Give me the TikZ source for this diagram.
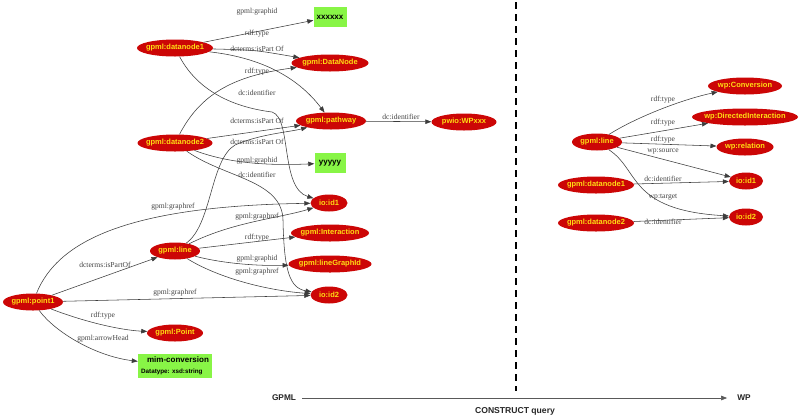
\documentclass[tikz,border=0pt]{standalone}
\usepackage{fontspec}
\setmainfont{Liberation Serif}
\newfontfamily\nodefont{Liberation Sans}
\usetikzlibrary{arrows.meta,shapes.geometric}
\definecolor{nodered}{RGB}{204,6,6}
\definecolor{nodeyellow}{RGB}{255,222,20}
\definecolor{boxgreen}{RGB}{136,245,70}
\definecolor{edgegray}{RGB}{60,60,60}
\definecolor{lblgray}{RGB}{70,70,70}
\tikzset{
  rn/.style={ellipse, fill=nodered, inner xsep=-4pt, inner ysep=0pt, minimum height=17pt,
    text=nodeyellow, font=\nodefont\bfseries\fontsize{7.5}{8}\selectfont},
  gb/.style={rectangle, fill=boxgreen, inner sep=0pt, text=black,
    font=\nodefont\bfseries\fontsize{8}{9}\selectfont},
  lbl/.style={inner sep=0pt, text=lblgray, font=\fontsize{7.6}{8}\selectfont},
  edge/.style={draw=edgegray, line width=0.55pt, -{Triangle[length=6pt,width=4.5pt]}},
}
\begin{document}
\begin{tikzpicture}[x=1pt,y=-1pt]
\useasboundingbox (0,0) rectangle (800,416);
\fill[white] (0,0) rectangle (800,416);

% ---------------- left graph nodes
\node[rn, minimum width=76pt] (dnA) at (175,48) {gpml:datanode1};
\node[gb, minimum width=33pt, minimum height=20pt] (xx) at (330,17) {xxxxxx};
\node[rn, minimum width=77pt] (dNode) at (330,63) {gpml:DataNode};
\node[rn, minimum width=70pt] (pw) at (331,121) {gpml:pathway};
\node[rn, minimum width=65pt] (pwio) at (464,122) {pwio:WPxxx};
\node[rn, minimum width=75pt] (dnB) at (175,143) {gpml:datanode2};
\node[gb, minimum width=31pt, minimum height=20pt] (yy) at (330,163) {yyyyy};
\node[rn, minimum width=37pt] (idA) at (329,203) {io:id1};
\node[rn, minimum width=78pt] (inter) at (330,233) {gpml:Interaction};
\node[rn, minimum width=83pt] (lgid) at (330,264) {gpml:lineGraphId};
\node[rn, minimum width=37pt] (idB) at (329,295) {io:id2};
\node[rn, minimum width=50pt] (ln) at (175,251) {gpml:line};
\node[rn, minimum width=60pt] (pt1) at (33,302) {gpml:point1};
\node[rn, minimum width=56pt] (pnt) at (175,333) {gpml:Point};
\node[gb, minimum width=74pt, minimum height=24pt, align=left] (mim) at (175,366)
  {\hspace*{6pt}mim-conversion\\[1.5pt]{\fontsize{6.3}{7}\selectfont Datatype: xsd:string}};

% ---------------- left graph edges
\draw[edge] (dnA) -- (xx);
\draw[edge] (dnA) .. controls (255,50) .. (dNode);
\draw[edge] (dnA) .. controls (265,58) and (300,80) .. (pw);
\draw[edge] (dnA) .. controls (200,95) and (240,108) .. (272,112) .. controls (292,118) and (280,188) .. (idA);
\draw[edge] (dnB) .. controls (200,95) and (232,76) .. (dNode);
\draw[edge] (dnB) -- (pw);
\draw[edge] (ln) .. controls (212,225) and (210,160) .. (235,145) .. controls (260,134) and (290,132) .. (pw);
\draw[edge] (dnB) .. controls (225,162) and (262,166) .. (yy);
\draw[edge] (dnB) .. controls (225,178) and (282,180) .. (283,220) .. controls (284,272) and (290,288) .. (idB);
\draw[edge] (pt1) .. controls (58,240) and (130,206) .. (idA);
\draw[edge] (pt1) -- (ln);
\draw[edge] (pt1) -- (idB);
\draw[edge] (pt1) .. controls (85,322) and (120,330) .. (pnt);
\draw[edge] (pt1) .. controls (55,332) and (95,356) .. (mim);
\draw[edge] (ln) .. controls (232,222) and (280,218) .. (idA);
\draw[edge] (ln) -- (inter);
\draw[edge] (ln) .. controls (225,264) and (260,266) .. (lgid);
\draw[edge] (ln) .. controls (215,276) and (262,290) .. (idB);
\draw[edge] (pw) -- (pwio);

% ---------------- left graph labels
\node[lbl] (l1) at (257,12) {gpml:graphid};
\node[lbl] (l2) at (257,34) {rdf:type};
\node[lbl] (l3) at (257,49) {dcterms:isPart Of};
\node[lbl] (l4) at (257,72) {rdf:type};
\node[lbl] (l5) at (257,93) {dc:identifier};
\node[lbl] (l6) at (257,121) {dcterms:isPart Of};
\node[lbl] (l7) at (257,142) {dcterms:isPart Of};
\node[lbl] (l8) at (257,161) {gpml:graphid};
\node[lbl] (l9) at (257,175) {dc:identifier};
\node[lbl] (l10) at (173,207) {gpml:graphref};
\node[lbl] (l11) at (257,217) {gpml:graphref};
\node[lbl] (l12) at (257,238) {rdf:type};
\node[lbl] (l13) at (257,259) {gpml:graphid};
\node[lbl] (l14) at (257,272) {gpml:graphref};
\node[lbl] (l15) at (105,265) {dcterms:isPartOf};
\node[lbl] (l16) at (175,293) {gpml:graphref};
\node[lbl] (l17) at (103,316) {rdf:type};
\node[lbl] (l18) at (103,339) {gpml:arrowHead};
\node[lbl] (l19) at (401,117) {dc:identifier};

% ---------------- right graph nodes
\node[rn, minimum width=50pt] (lnR) at (597,142) {gpml:line};
\node[rn, minimum width=74pt] (conv) at (745,86) {wp:Conversion};
\node[rn, minimum width=106pt] (dint) at (745,117) {wp:DirectedInteraction};
\node[rn, minimum width=57pt] (rel) at (745,147) {wp:relation};
\node[rn, minimum width=34pt] (idR1) at (746,181) {io:id1};
\node[rn, minimum width=34pt] (idR2) at (746,217) {io:id2};
\node[rn, minimum width=76pt] (dnR1) at (596,185) {gpml:datanode1};
\node[rn, minimum width=76pt] (dnR2) at (596,223) {gpml:datanode2};

% ---------------- right graph edges
\draw[edge] (lnR) .. controls (635,118) and (680,100) .. (conv);
\draw[edge] (lnR) -- (dint);
\draw[edge] (lnR) -- (rel);
\draw[edge] (lnR) -- (idR1);
\draw[edge] (dnR1) -- (idR1);
\draw[edge] (lnR) .. controls (640,170) and (628,210) .. (idR2);
\draw[edge] (dnR2) -- (idR2);

% ---------------- right graph labels
\node[lbl] (r1) at (663,100) {rdf:type};
\node[lbl] (r2) at (663,123) {rdf:type};
\node[lbl] (r3) at (663,140) {rdf:type};
\node[lbl] (r4) at (663,152) {wp:source};
\node[lbl] (r5) at (663,179) {dc:identifier};
\node[lbl] (r6) at (663,197) {wp:target};
\node[lbl] (r7) at (663,222) {dc:identifier};

% ---------------- separator and bottom arrow
\coordinate (sepT) at (516,2);
\coordinate (sepB) at (516,391);
\draw[black, line width=1.6pt, dash pattern=on 7pt off 5pt] (sepT) -- (sepB);
\node[inner sep=0pt, text=black!85, font=\nodefont\bfseries\fontsize{8.3}{9}\selectfont] (gpml) at (284,398) {GPML};
\node[inner sep=0pt, text=black!85, font=\nodefont\bfseries\fontsize{8.3}{9}\selectfont] (wp) at (744,398) {WP};
\draw[draw=black!65, line width=0.6pt, -{Triangle[length=6pt,width=4.5pt]}] ([xshift=6pt]gpml.east) -- ([xshift=-10pt]wp.west);
\node[inner sep=0pt, text=black!85, font=\nodefont\bfseries\fontsize{8.6}{9}\selectfont] (cq) at (515,411) {CONSTRUCT query};
\end{tikzpicture}
\end{document}
